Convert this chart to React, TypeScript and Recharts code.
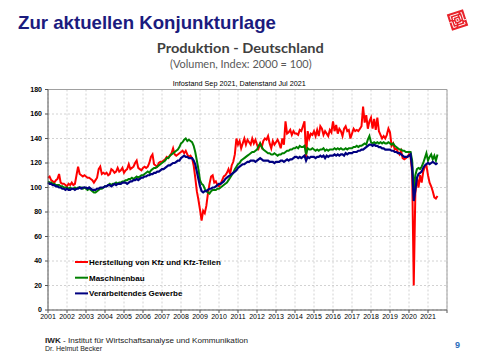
import React from 'react';
import { LineChart, Line, XAxis, YAxis, CartesianGrid, ReferenceLine } from 'recharts';

// Monthly index values (2000 = 100), Jan 2001 .. Jul 2021
const kfz: number[] = [
  // 2001
  108, 109, 106, 105, 104, 106, 107, 111, 104, 103, 103, 102,
  // 2002
  101, 103, 102, 104, 102, 103, 110, 117, 111, 110, 109, 110,
  // 2003
  109, 108, 108, 107, 106, 104, 106, 108, 115, 117, 111, 112,
  // 2004
  111, 112, 110, 111, 115, 114, 112, 113, 116, 113, 114, 116,
  // 2005
  112, 114, 115, 119, 115, 116, 117, 120, 122, 116, 115, 114,
  // 2006
  116, 117, 116, 117, 120, 125, 127, 119, 118, 117, 120, 121,
  // 2007
  121, 122, 123, 125, 124, 126, 128, 132, 127, 126, 127, 128,
  // 2008
  129, 130, 128, 130, 127, 125, 126, 124, 118, 108, 97, 90,
  // 2009
  82, 73, 81, 79, 85, 95, 103, 109, 110, 104, 105, 102,
  // 2010
  101, 103, 106, 109, 110, 112, 115, 111, 118, 121, 127, 140,
  // 2011
  135, 138, 132, 136, 140, 135, 139, 137, 135, 140, 136, 139,
  // 2012
  135, 132, 136, 133, 138, 140, 139, 142, 136, 132, 138, 135,
  // 2013
  137, 139, 136, 132, 140, 135, 154, 144, 145, 147, 143, 146,
  // 2014
  144, 144, 143, 147, 146, 150, 154, 125, 146, 140, 144, 143,
  // 2015
  146, 142, 147, 142, 150, 148, 143, 146, 144, 142, 147, 145,
  // 2016
  154, 146, 151, 144, 148, 146, 142, 148, 150, 146, 147, 140,
  // 2017
  144, 148, 146, 147, 146, 148, 150, 166, 153, 159, 148, 154,
  // 2018
  157, 148, 156, 147, 157, 146, 143, 140, 142, 140, 143, 148,
  // 2019
  145, 134, 136, 131, 132, 129, 127, 130, 124, 123, 124, 125,
  // 2020
  127, 125, 112, 20, 95, 108, 100, 110, 104, 113, 117, 118,
  // 2021
  110, 104, 101, 97, 92, 91, 93,
];

const masch: number[] = [
  // 2001
  105, 104, 104, 103, 103, 102, 102, 102, 101, 101, 100, 100,
  // 2002
  100, 99, 100, 99, 99, 100, 99, 100, 100, 100, 99, 100,
  // 2003
  99, 98, 99, 98, 97, 96, 96, 97, 98, 99, 99, 100,
  // 2004
  101, 101, 102, 103, 102, 103, 103, 104, 103, 104, 104, 105,
  // 2005
  105, 106, 106, 107, 107, 108, 107, 108, 109, 108, 109, 110,
  // 2006
  110, 111, 112, 113, 112, 114, 115, 116, 116, 117, 118, 119,
  // 2007
  120, 121, 122, 124, 124, 126, 127, 128, 129, 130, 131, 133,
  // 2008
  136, 137, 139, 140, 138, 139, 138, 137, 134, 129, 122, 115,
  // 2009
  106, 103, 102, 99, 97, 96, 95, 97, 98, 98, 98, 99,
  // 2010
  99, 100, 101, 102, 103, 104, 106, 108, 110, 112, 115, 117,
  // 2011
  119, 120, 122, 123, 124, 125, 126, 127, 128, 129, 129, 130,
  // 2012
  131, 134, 136, 133, 131, 130, 129, 128, 128, 127, 127, 128,
  // 2013
  127, 126, 127, 127, 128, 128, 129, 130, 130, 131, 131, 132,
  // 2014
  132, 133, 132, 134, 133, 133, 134, 127, 132, 131, 131, 132,
  // 2015
  131, 130, 131, 130, 131, 131, 132, 130, 131, 130, 131, 131,
  // 2016
  131, 132, 131, 132, 131, 132, 131, 131, 132, 131, 132, 132,
  // 2017
  132, 133, 133, 134, 133, 134, 134, 135, 136, 135, 139, 142,
  // 2018
  137, 136, 137, 136, 137, 136, 137, 136, 137, 136, 136, 137,
  // 2019
  136, 135, 136, 134, 133, 132, 131, 131, 130, 130, 129, 129,
  // 2020
  129, 129, 122, 98, 110, 115, 116, 115, 117, 120, 124, 128,
  // 2021
  122, 125, 127, 123, 126, 122, 127,
];

const vg: number[] = [
  // 2001
  104, 103, 103, 102, 102, 101, 101, 100, 100, 99, 99, 98,
  // 2002
  99, 98, 98, 99, 99, 98, 99, 99, 100, 99, 100, 100,
  // 2003
  100, 99, 100, 99, 98, 98, 98, 99, 99, 100, 100, 100,
  // 2004
  101, 101, 102, 102, 101, 102, 103, 102, 103, 103, 103, 104,
  // 2005
  104, 104, 103, 104, 105, 105, 106, 106, 107, 106, 107, 108,
  // 2006
  108, 109, 109, 110, 110, 111, 111, 112, 112, 113, 113, 114,
  // 2007
  115, 115, 116, 117, 118, 118, 119, 120, 120, 121, 122, 122,
  // 2008
  124, 125, 126, 125, 125, 124, 124, 124, 122, 119, 113, 107,
  // 2009
  101, 97, 96, 97, 97, 98, 99, 99, 100, 100, 101, 102,
  // 2010
  103, 103, 104, 105, 107, 108, 109, 110, 111, 112, 113, 114,
  // 2011
  116, 117, 118, 119, 119, 120, 121, 121, 122, 122, 122, 121,
  // 2012
  122, 123, 124, 123, 122, 122, 122, 122, 121, 121, 121, 120,
  // 2013
  121, 121, 121, 122, 122, 121, 122, 123, 122, 123, 123, 124,
  // 2014
  125, 125, 124, 125, 124, 125, 126, 122, 125, 124, 125, 125,
  // 2015
  125, 124, 125, 125, 126, 125, 126, 124, 126, 125, 126, 126,
  // 2016
  126, 127, 126, 127, 126, 127, 127, 126, 128, 127, 128, 128,
  // 2017
  128, 129, 129, 129, 130, 130, 131, 131, 132, 133, 134, 135,
  // 2018
  135, 134, 135, 134, 134, 133, 133, 132, 132, 131, 131, 131,
  // 2019
  131, 130, 130, 129, 129, 128, 128, 127, 126, 125, 125, 125,
  // 2020
  126, 127, 116, 89, 98, 108, 111, 112, 113, 116, 118, 119,
  // 2021
  120, 119, 120, 121, 120, 119, 120,
];

const yearTicks: number[] = [
  2001, 2002, 2003, 2004, 2005, 2006, 2007, 2008, 2009, 2010, 2011,
  2012, 2013, 2014, 2015, 2016, 2017, 2018, 2019, 2020, 2021, 2022,
];
const valueTicks: number[] = [0, 20, 40, 60, 80, 100, 120, 140, 160, 180];

const seriesNames: string[] = [
  'Herstellung von Kfz und Kfz-Teilen',
  'Maschinenbau',
  'Verarbeitendes Gewerbe',
];
const seriesKeys: string[] = ['kfz', 'masch', 'vg'];
const seriesColors: string[] = ['#ff0000', '#008000', '#000080'];

const START_YEAR = 2001;
const data = kfz.map((_, i) => ({
  t: START_YEAR + i / 12,
  kfz: kfz[i],
  masch: masch[i],
  vg: vg[i],
}));

const ARIAL = '"Liberation Sans", Arial, sans-serif';

function Logo() {
  return (
    <g transform="translate(457.5,20) rotate(-18)">
      <rect x={-8.5} y={-8.5} width={17} height={17} fill="#e8232b" />
      <rect x={-6} y={-6} width={12} height={12} fill="none" stroke="#fff" strokeWidth={0.9} strokeDasharray="9 2" />
      <rect x={-3.6} y={-3.6} width={7.2} height={7.2} fill="none" stroke="#fff" strokeWidth={0.9} strokeDasharray="5 1.6" />
      <rect x={-1.3} y={-1.3} width={2.6} height={2.6} fill="none" stroke="#fff" strokeWidth={0.8} />
      <line x1={-8.5} y1={0} x2={-6} y2={0} stroke="#fff" strokeWidth={0.8} />
      <line x1={6} y1={2} x2={8.5} y2={2} stroke="#fff" strokeWidth={0.8} />
    </g>
  );
}

export default function App() {
  return (
    <div style={{ position: 'absolute', left: 0, top: 0, width: 480, height: 360, background: '#fff', overflow: 'hidden' }}>
      <div style={{ position: 'absolute', left: 0, top: 0 }}>
        <LineChart width={480} height={360} data={data} margin={{ top: 89.5, right: 33, bottom: 30, left: 18 }}>
          <CartesianGrid stroke="#d2d2d2" strokeDasharray="2 2" />
          <XAxis
            type="number"
            dataKey="t"
            domain={[2001, 2022]}
            ticks={yearTicks}
            interval={0}
            height={20}
            tickSize={3}
            tickMargin={1}
            tickFormatter={(v: number) => (v === 2022 ? '' : String(v))}
            axisLine={{ stroke: '#555' }}
            tickLine={{ stroke: '#555' }}
            tick={{ fontSize: 7, fill: '#000', fontFamily: ARIAL }}
          />
          <YAxis
            type="number"
            domain={[0, 180]}
            ticks={valueTicks}
            interval={0}
            width={30}
            tickSize={3}
            tickMargin={3}
            axisLine={{ stroke: '#555' }}
            tickLine={{ stroke: '#555' }}
            tick={{ fontSize: 7, fill: '#000', fontWeight: 'bold', fontFamily: ARIAL }}
          />
          <ReferenceLine y={180} stroke="#a0a0a0" strokeWidth={1} />
          <ReferenceLine x={2022} stroke="#a0a0a0" strokeWidth={1} />
          {seriesKeys.map((k, i) => (
            <Line
              key={k}
              type="linear"
              dataKey={k}
              name={seriesNames[i]}
              stroke={seriesColors[i]}
              strokeWidth={i === 2 ? 2.2 : 2}
              dot={false}
              isAnimationActive={false}
            />
          ))}
        </LineChart>
      </div>
      <svg width={480} height={360} style={{ position: 'absolute', left: 0, top: 0, pointerEvents: 'none' }}>
        <text x={18} y={29.3} fontFamily={ARIAL} fontWeight="bold" fontSize={18.6} fill="#1b1b7e" textLength={258} lengthAdjust="spacingAndGlyphs">
          Zur aktuellen Konjunkturlage
        </text>
        <Logo />
        <text x={240.3} y={53.3} textAnchor="middle" fontFamily="Lato, 'Open Sans', sans-serif" fontWeight="bold" fontSize={14} fill="#404040" textLength={167} lengthAdjust="spacingAndGlyphs">
          Produktion - Deutschland
        </text>
        <text x={240.8} y={68.3} textAnchor="middle" fontFamily="Lato, 'Open Sans', sans-serif" fontSize={10.5} fill="#595959" textLength={141.7} lengthAdjust="spacingAndGlyphs">
          (Volumen, Index: 2000 = 100)
        </text>
        <text x={239.3} y={86} textAnchor="middle" fontFamily={ARIAL} fontSize={7.2} fill="#000" textLength={133} lengthAdjust="spacingAndGlyphs">
          Infostand Sep 2021, Datenstand Jul 2021
        </text>
        {seriesNames.map((n, i) => (
          <g key={n}>
            <line x1={75} x2={88} y1={262 + i * 15.7} y2={262 + i * 15.7} stroke={seriesColors[i]} strokeWidth={2} />
            <text x={89} y={262 + i * 15.7 + 2.9} fontFamily={ARIAL} fontWeight="bold" fontSize={8} fill="#000">
              {n}
            </text>
          </g>
        ))}
        <text x={45} y={342.7} fontFamily={ARIAL} fontSize={7.3} fill="#222" textLength={203} lengthAdjust="spacingAndGlyphs">
          <tspan fontWeight="bold">IWK</tspan>
          <tspan>{'  -  Institut für Wirtschaftsanalyse und Kommunikation'}</tspan>
        </text>
        <text x={45} y={350.7} fontFamily={ARIAL} fontSize={6.8} fill="#222" textLength={57} lengthAdjust="spacingAndGlyphs">
          Dr. Helmut Becker
        </text>
        <text x={455} y={348.3} fontFamily={ARIAL} fontWeight="bold" fontSize={9} fill="#2a6ebb">
          9
        </text>
      </svg>
    </div>
  );
}
